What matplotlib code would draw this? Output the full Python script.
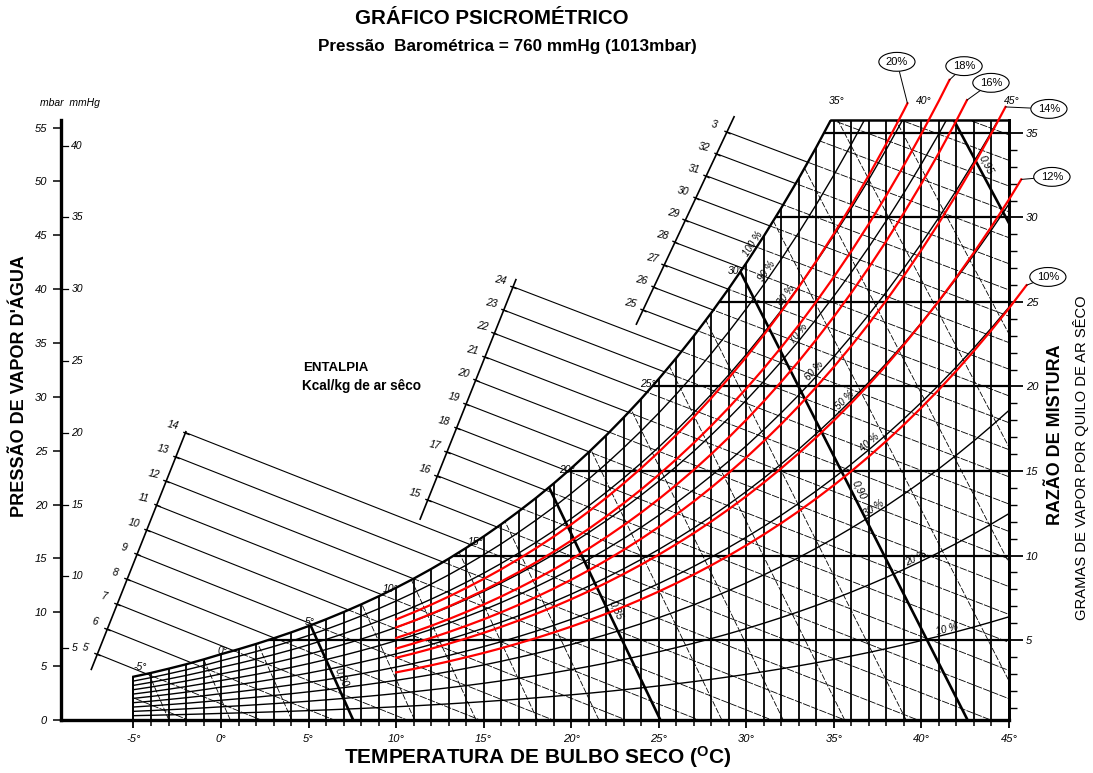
import numpy as np
import matplotlib
matplotlib.use("Agg")
import matplotlib.pyplot as plt
from matplotlib.patches import Polygon
from matplotlib.transforms import blended_transform_factory

plt.rcParams['font.family'] = ['Liberation Sans', 'DejaVu Sans']
plt.rcParams['mathtext.default'] = 'regular'

# ---------------- values ----------------
T_SAT = list(range(-5, 48))
P_SAT = [4.02, 4.37, 4.76, 5.17, 5.62, 6.11, 6.57, 7.06, 7.58, 8.13, 8.72,
         9.35, 10.02, 10.73, 11.48, 12.28, 13.12, 14.02, 14.97, 15.98, 17.04,
         18.17, 19.37, 20.63, 21.96, 23.37, 24.86, 26.43, 28.09, 29.83, 31.67,
         33.61, 35.65, 37.80, 40.06, 42.43, 44.93, 47.55, 50.30, 53.19, 56.22,
         59.40, 62.74, 66.24, 69.91, 73.75, 77.77, 81.98, 86.39, 91.00, 95.82,
         100.9, 106.2]
P_TOP = 55.7

MBAR_TICKS = list(range(0, 56, 5))
MMHG_TICKS = [5, 10, 15, 20, 25, 30, 35, 40]
MMHG_TO_MBAR = 1.33322

W_TICKS = [5, 10, 15, 20, 25, 30, 35]
W_MINOR = list(range(1, 36))
W_SLOPE = 1.569
W_ZERO = -0.42

DB_TICKS = list(range(-5, 46, 5))
DB_GRID = list(range(-5, 46))

RH_LEVELS = [10, 20, 30, 40, 50, 60, 70, 80, 90]
RH_LABEL_LEVELS = [100, 90, 80, 70, 60, 50, 40, 30, 20, 10]
RH_LABEL_T = [30.6, 31.4, 32.5, 33.2, 34.1, 35.8, 37.2, 37.4, 39.8, 41.5]

SAT_LABEL_T = [-5, 0, 5, 10, 15, 20, 25, 30]
TOP_LABEL_T = [35, 40, 45]

ENTH_OFFSET = 4.45
SCALE1_H = list(range(5, 15))
SCALE2_H = list(range(15, 25))
SCALE3_H = list(range(25, 34))
SCALE3_TEXT = [str(h) for h in range(25, 33)] + ['3']
SCALE1_ENDS = [(-7.41, 4.70), (-2.01, 26.76)]
SCALE2_ENDS = [(11.37, 18.65), (16.84, 40.88)]
SCALE3_ENDS = [(23.72, 36.75), (29.3, 56.0)]
ENTH_INNER_H = list(range(1, 38))

VOL_LEVELS = [0.77, 0.78, 0.79, 0.80, 0.81, 0.82, 0.83, 0.84, 0.85, 0.86,
              0.87, 0.88, 0.89, 0.90, 0.91, 0.92, 0.93, 0.94, 0.95]
VOL_THICK = [0.80, 0.85, 0.90, 0.95]
VOL_LABELS = ['0,80', '0,85', '0,90', '0,95']
VOL_LABEL_P = [4.0, 10.2, 21.4, 51.5]
P_EFF = 100.7

RED_LABELS = ['20%', '18%', '16%', '14%', '12%', '10%']
RED_RH_START = [0.76, 0.70, 0.62, 0.54, 0.47, 0.36]
RED_RH_END = [0.81, 0.74, 0.68, 0.60, 0.505, 0.40]
RED_T_START = 10.0
RED_T_END = [39.2, 41.6, 42.6, 44.8, 45.7, 46.0]
RED_LABEL_T = [38.60, 42.43, 43.97, 47.28, 47.45, 47.22]
RED_LABEL_P = [61.1, 60.7, 59.15, 56.73, 50.42, 41.13]

# ---------------- figure ----------------
W_PX, H_PX = 1093, 773
fig = plt.figure(figsize=(W_PX / 100, H_PX / 100), dpi=100)
X0, X1, YB, YT = 61, 1009, 720, 120
ax = fig.add_axes([X0 / W_PX, 1 - YB / H_PX, (X1 - X0) / W_PX, (YB - YT) / H_PX])
ax.set_xlim(-9.14, 45)
ax.set_ylim(0, P_TOP)
ax.set_facecolor('none')

T = np.array(T_SAT, float)
PS = np.array(P_SAT, float)


def psat(t):
    return np.interp(t, T, PS)


def w2p(w):
    return W_SLOPE * np.asarray(w, float) + W_ZERO


def p2w(p):
    return (np.asarray(p, float) - W_ZERO) / W_SLOPE


def hval(t, p):
    w = 0.622 * p / (1013.0 - p)
    return 0.24 * t + w * (597.3 + 0.441 * t)


def enth_p(H, t):
    h = H - ENTH_OFFSET
    w = (h - 0.24 * t) / (597.3 + 0.441 * t)
    return 1013.0 * w / (0.622 + w)


t_top = float(np.interp(P_TOP, PS, T))
boundary = [(-5, 0), (45, 0), (45, P_TOP), (t_top, P_TOP)]
boundary += [(t, p) for t, p in zip(T[::-1], PS[::-1]) if t < t_top]
clip = Polygon(boundary, closed=True, transform=ax.transData)

# vertical dry-bulb lines
tops = [min(psat(t), P_TOP) for t in DB_GRID]
ax.vlines(DB_GRID, 0, tops, colors='k', lw=1.3, zorder=2)

# horizontal mixing ratio lines
for w in W_TICKS:
    pw = float(w2p(w))
    ts = float(np.interp(pw, PS, T))
    ax.hlines(pw, ts, 45, colors='k', lw=1.6, zorder=2)

# relative humidity curves
for rh in RH_LEVELS:
    ln, = ax.plot(T, rh / 100 * PS, color='k', lw=1.0, zorder=3)
    ln.set_clip_path(clip)

# enthalpy lines inside the chart
tt = np.linspace(-10, 50, 300)
for H in ENTH_INNER_H:
    ln, = ax.plot(tt, enth_p(H, tt), color='k', lw=0.6, dashes=(9, 1.5), zorder=2)
    ln.set_clip_path(clip)

# specific volume lines
pp = np.linspace(0, 60, 200)
for v in VOL_LEVELS:
    ww = 0.622 * pp / (1013.0 - pp)
    tv = v * P_EFF / (0.287 * (1 + 1.608 * ww)) - 273.15
    thick = any(abs(v - vt) < 1e-6 for vt in VOL_THICK)
    if thick:
        ln, = ax.plot(tv, pp, color='k', lw=1.9, zorder=4)
    else:
        ln, = ax.plot(tv, pp, color='k', lw=0.6, dashes=(7, 2), zorder=2)
    ln.set_clip_path(clip)

# chart outline: saturation curve, top, left edge
sat_t = [t for t in T_SAT if t < t_top] + [t_top]
sat_p = [p for t, p in zip(T_SAT, P_SAT) if t < t_top] + [P_TOP]
ax.plot(sat_t, sat_p, color='k', lw=1.7, zorder=5)
ax.plot([t_top, 45], [P_TOP, P_TOP], color='k', lw=1.8, zorder=5, clip_on=False)
ax.plot([-5, -5], [0, psat(-5)], color='k', lw=1.3, zorder=5)


def disp_angle(x0, y0, x1, y1):
    a = ax.transData.transform([(x0, y0), (x1, y1)])
    return np.degrees(np.arctan2(a[1, 1] - a[0, 1], a[1, 0] - a[0, 0]))


# enthalpy scales
lab_kw = dict(fontsize=7.5, style='italic', color='k')
for Hs, ends, texts in [(SCALE1_H, SCALE1_ENDS, [str(h) for h in SCALE1_H]),
                        (SCALE2_H, SCALE2_ENDS, [str(h) for h in SCALE2_H]),
                        (SCALE3_H, SCALE3_ENDS, SCALE3_TEXT)]:
    (ta, pa), (tb, pb) = ends
    ax.plot([ta, tb], [pa, pb], color='k', lw=1.2, zorder=5, clip_on=False)
    ang = disp_angle(ta, pa, tb, pb)
    s = np.linspace(0, 1, 500)
    st = ta + s * (tb - ta)
    sp = pa + s * (pb - pa)
    hs = hval(st, sp)
    for H, txt in zip(Hs, texts):
        sk = np.interp(H - ENTH_OFFSET, hs, s)
        tk = ta + sk * (tb - ta)
        pk = pa + sk * (pb - pa)
        ax.plot([tk], [pk], marker=(2, 0, ang), ms=5, mew=1.0, color='k',
                clip_on=False, zorder=5)
        seg_t = np.linspace(tk, 45, 600)
        seg_p = enth_p(H, seg_t)
        diff = seg_p - psat(seg_t)
        idx = np.where(diff <= 0)[0]
        if len(idx):
            i = idx[0]
            ax.plot(seg_t[:i + 1], seg_p[:i + 1], color='k', lw=0.8, zorder=3,
                    clip_on=False)
        ax.annotate(txt, (tk, pk), xytext=(-9, 5), textcoords='offset points',
                    ha='center', va='center', rotation=-12,
                    annotation_clip=False, **lab_kw)

# saturation temperature labels
sat_off = {-5: (5, 7), 0: (1, 2), 5: (1, 3), 10: (-4, -1), 15: (-6, -4),
           20: (-3, -1), 25: (-8, -4), 30: (-8, -6)}
for t in SAT_LABEL_T:
    ax.annotate(f"{t}°", (t, psat(t)), xytext=sat_off[t], textcoords='offset points',
                ha='center', va='center', annotation_clip=False, zorder=6, **lab_kw)
for t in TOP_LABEL_T:
    ax.annotate(f"{t}°", (t, P_TOP), xytext=(2, 14), textcoords='offset points',
                ha='center', va='center', annotation_clip=False, **lab_kw)

# RH labels
for rh, tl in zip(RH_LABEL_LEVELS, RH_LABEL_T):
    pl = rh / 100 * psat(tl)
    ang = disp_angle(tl - 0.3, rh / 100 * psat(tl - 0.3), tl + 0.3, rh / 100 * psat(tl + 0.3))
    ax.text(tl, pl, f"{rh} %", rotation=ang, rotation_mode='anchor', ha='center',
            va='bottom', fontsize=7, style='italic', zorder=6)

# volume labels
for v, txt, pl in zip(VOL_THICK, VOL_LABELS, VOL_LABEL_P):
    wl = 0.622 * pl / (1013.0 - pl)
    tl = v * P_EFF / (0.287 * (1 + 1.608 * wl)) - 273.15
    w2 = 0.622 * (pl - 1) / (1013.0 - (pl - 1))
    t2 = v * P_EFF / (0.287 * (1 + 1.608 * w2)) - 273.15
    ang = disp_angle(tl, pl, t2, pl - 1)
    ax.annotate(txt, (tl, pl), xytext=(6, 0), textcoords='offset points',
                rotation=ang, ha='center', va='center', fontsize=7.5,
                style='italic', annotation_clip=False, zorder=6)

# red wood-moisture curves
for lab, r0, r1, te, lt, lp in zip(RED_LABELS, RED_RH_START, RED_RH_END,
                                   RED_T_END, RED_LABEL_T, RED_LABEL_P):
    tt_r = np.array([t for t in T_SAT if RED_T_START <= t < te] + [te], float)
    rr = r0 + (r1 - r0) * (tt_r - RED_T_START) / (te - RED_T_START)
    pr = rr * psat(tt_r)
    ax.plot(tt_r, pr, color='#ff0000', lw=1.6, zorder=7, clip_on=False)
    ax.annotate(lab, (tt_r[-1], pr[-1]), xytext=(lt, lp), textcoords='data',
                ha='center', va='center', fontsize=8, annotation_clip=False,
                bbox=dict(boxstyle='ellipse,pad=0.15', fc='white', ec='k', lw=0.8),
                arrowprops=dict(arrowstyle='-', lw=0.7, color='k',
                                shrinkA=0, shrinkB=0), zorder=8)

# ---------------- axes, ticks ----------------
ax.spines['top'].set_visible(False)
ax.spines['left'].set_linewidth(2.4)
ax.spines['bottom'].set_linewidth(2.4)
ax.spines['right'].set_linewidth(2.0)

ax.set_xticks(DB_TICKS)
ax.set_xticklabels([f"{t}°" for t in DB_TICKS], style='italic', fontsize=8)
ax.set_xticks(DB_GRID, minor=True)
ax.tick_params(axis='x', which='major', length=6, width=1.3, pad=4)
ax.tick_params(axis='x', which='minor', length=4, width=1.1)

ax.set_yticks(MBAR_TICKS)
ax.set_yticklabels([str(m) for m in MBAR_TICKS], style='italic', fontsize=8)
ax.tick_params(axis='y', which='major', length=6, width=1.1, pad=4)

trans = blended_transform_factory(ax.transAxes, ax.transData)
for m in MMHG_TICKS:
    pm = m * MMHG_TO_MBAR
    ax.plot([0, 0.007], [pm, pm], transform=trans, color='k', lw=0.9, clip_on=False)
    ax.text(0.011, pm, str(m), transform=trans, ha='left', va='center',
            fontsize=7.5, style='italic')

sec = ax.secondary_yaxis('right', functions=(p2w, w2p))
sec.set_yticks(W_TICKS)
sec.set_yticks(W_MINOR, minor=True)
sec.set_yticklabels([str(w) for w in W_TICKS], style='italic', fontsize=8)
sec.tick_params(which='major', length=10, width=1.3, pad=2)
sec.tick_params(which='minor', length=6, width=1.0)
sec.spines['right'].set_linewidth(2.0)

# ---------------- texts ----------------
def ftext(x, y, s, **kw):
    fig.text(x / W_PX, 1 - y / H_PX, s, **kw)


ftext(492, 18, "GRÁFICO PSICROMÉTRICO", ha='center', va='center',
      fontsize=14.8, fontweight='bold')
ftext(507, 47, "Pressão  Barométrica = 760 mmHg (1013mbar)", ha='center',
      va='center', fontsize=12.3, fontweight='bold')
ftext(70, 103, "mbar  mmHg", ha='center', va='center', fontsize=7.5, style='italic')
ftext(20, 386, "PRESSÃO DE VAPOR D'ÁGUA", ha='center', va='center', rotation=90,
      fontsize=13, fontweight='bold')
ftext(336, 368, "ENTALPIA", ha='center', va='center', fontsize=9.5, fontweight='bold')
ftext(362, 386, "Kcal/kg de ar sêco", ha='center', va='center', fontsize=9.8,
      fontweight='bold')
ftext(538, 757, "TEMPERATURA DE BULBO SECO ($^{O}$C)", ha='center', va='center',
      fontsize=15, fontweight='bold')
ftext(1055, 435, "RAZÃO DE MISTURA", ha='center', va='center', rotation=90,
      fontsize=12.9, fontweight='bold')
ftext(1081, 458, "GRAMAS DE VAPOR POR QUILO DE AR SÊCO", ha='center', va='center',
      rotation=90, fontsize=10.6)

fig.savefig("out.png", dpi=100, facecolor='white')
